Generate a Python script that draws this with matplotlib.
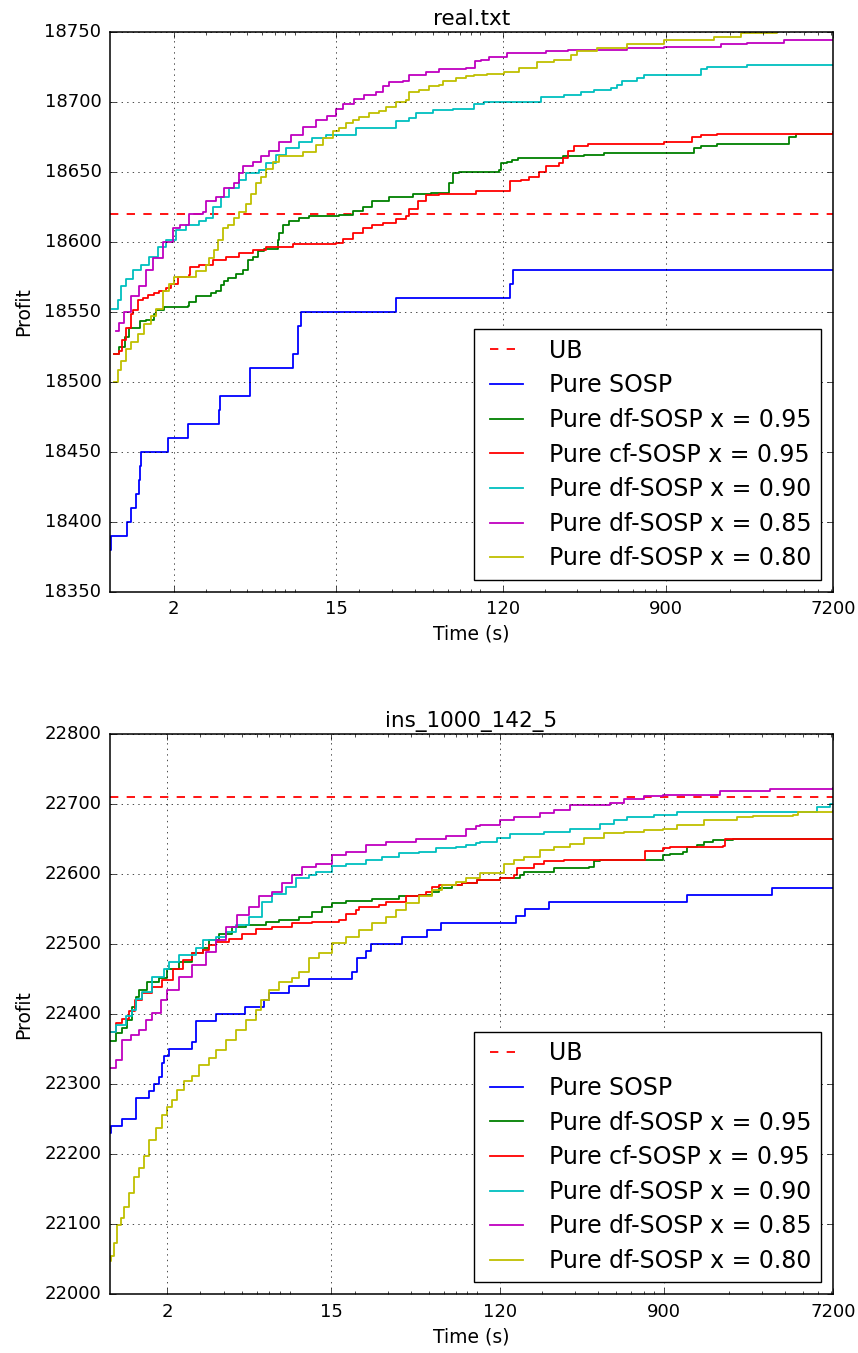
import matplotlib
matplotlib.use('Agg')
import matplotlib.pyplot as plt
from matplotlib.ticker import NullFormatter, FixedLocator, FixedFormatter

plt.style.use('classic')
plt.rcParams['lines.linewidth'] = 1.3
plt.rcParams['axes.linewidth'] = 1.1
plt.rcParams['xtick.labelsize'] = 13
plt.rcParams['ytick.labelsize'] = 13

# ---- real.txt ----
ub_a = 18620

t_sosp_a = [0.91, 0.92, 1.12, 1.17, 1.25, 1.30, 1.32, 1.34, 1.86, 2.40, 3.52, 3.57, 5.18, 8.76, 9.39, 9.71, 31.6, 130, 136, 7200]
p_sosp_a = [18380, 18390, 18400, 18410, 18420, 18430, 18440, 18450, 18460, 18470, 18480, 18490, 18510, 18520, 18540, 18550, 18560, 18570, 18580, 18580]

t_df95_a = [0.95, 1.02, 1.09, 1.154, 1.31, 1.42, 1.57, 1.61, 1.78, 2.38, 2.43, 2.64, 3.18, 3.38, 3.60, 3.75, 3.91, 4.34, 4.71,
            5.01, 5.33, 5.68, 6.17, 7.28, 7.43, 7.74, 8.41, 9.52, 10.8, 15.6, 18.5, 20.9, 23.6, 29.1, 38.9, 48.8, 61.3, 63.9, 69.3,
            114, 116, 126, 134, 143, 250, 327, 419, 1279, 1389, 1710, 4160, 4519, 7200]
p_df95_a = [18520, 18525, 18532, 18538, 18543, 18544, 18548, 18551, 18553, 18554, 18557, 18561, 18563, 18565, 18569, 18572, 18574, 18577, 18580,
            18587, 18589, 18593, 18595, 18601, 18606, 18612, 18615, 18617, 18618, 18619, 18622, 18625, 18629, 18632, 18634, 18635, 18642, 18649, 18650,
            18651, 18656, 18657, 18658, 18660, 18661, 18662, 18663, 18667, 18668, 18670, 18675, 18677, 18678]

t_cf95_a = [0.95, 1.02, 1.05, 1.107, 1.178, 1.202, 1.279, 1.361, 1.449, 1.573, 1.674, 1.818, 1.935, 2.10, 2.43, 2.45, 2.75, 3.25, 3.83, 4.52,
            5.33, 6.30, 8.76, 15.0, 16.3, 18.5, 20.9, 23.6, 26.8, 31.6, 35.8, 37.3, 41.4, 45.9, 54.1, 85, 130, 149, 165, 187,
            203, 240, 250, 266, 289, 341, 882, 1253, 1389, 1710, 7200]
p_cf95_a = [18520, 18522, 18530, 18538, 18548, 18551, 18558, 18560, 18562, 18563, 18565, 18567, 18570, 18575, 18576, 18582, 18583, 18587, 18589, 18592,
            18594, 18596, 18598, 18599, 18602, 18606, 18610, 18612, 18613, 18616, 18618, 18623, 18629, 18633, 18634, 18636, 18643, 18644, 18646, 18650,
            18654, 18656, 18660, 18665, 18668, 18670, 18671, 18675, 18676, 18677, 18678]

t_df90_a = [0.93, 0.998, 1.04, 1.107, 1.20, 1.33, 1.48, 1.64, 1.82, 2.06, 2.33, 2.75, 2.99, 3.25, 3.60, 3.99, 4.52, 4.91, 5.79, 6.30,
            7.13, 8.07, 9.52, 11.2, 13.3, 19.2, 31.6, 37.3, 40.5, 49.8, 63.9, 83.4, 94.4, 191, 255, 313, 370, 455, 494, 526,
            633, 688, 1389, 1510, 2480, 7200]
p_df90_a = [18552, 18558, 18568, 18573, 18580, 18583, 18589, 18596, 18601, 18608, 18612, 18615, 18617, 18625, 18632, 18638, 18644, 18649, 18651, 18656,
            18662, 18667, 18671, 18674, 18676, 18681, 18686, 18688, 18692, 18694, 18695, 18698, 18700, 18703, 18705, 18707, 18708, 18710, 18712, 18715,
            18717, 18719, 18723, 18725, 18726, 18726]

t_df85_a = [0.978, 1.02, 1.084, 1.178, 1.306, 1.42, 1.54, 1.745, 1.975, 2.15, 2.43, 2.87, 2.99, 3.38, 3.75, 4.25, 4.52, 4.71, 5.33, 5.92,
            6.56, 7.43, 8.58, 9.92, 11.7, 13.5, 15.0, 16.3, 18.8, 21.3, 24.6, 26.8, 29.1, 34.3, 37.3, 45.9, 54.1, 75.3, 84, 91,
            100, 126, 203, 266, 559, 882, 1782, 2480, 3911, 7200]
p_df85_a = [18536, 18542, 18550, 18561, 18568, 18580, 18588, 18600, 18610, 18612, 18620, 18621, 18629, 18632, 18638, 18642, 18649, 18654, 18657, 18661,
            18665, 18671, 18676, 18682, 18687, 18690, 18695, 18698, 18702, 18705, 18707, 18711, 18714, 18715, 18719, 18721, 18723, 18724, 18729, 18730,
            18732, 18735, 18736, 18737, 18738, 18739, 18741, 18742, 18744, 18744]

t_df80_a = [0.957, 0.998, 1.04, 1.107, 1.178, 1.279, 1.39, 1.51, 1.606, 1.745, 1.895, 2.02, 2.64, 2.99, 3.11, 3.31, 3.45, 3.68, 3.91, 4.25,
            4.52, 4.91, 5.22, 5.56, 5.92, 6.30, 6.84, 7.43, 9.92, 11.7, 12.7, 14.4, 15.6, 17.0, 18.5, 20.0, 22.7, 25.7, 27.9, 31.6,
            35.8, 37.3, 42.2, 47.8, 54.1, 56.4, 66.5, 75.3, 83.4, 98.4, 121, 146, 183, 225, 277, 301, 386, 559, 882, 1640,
            2284, 3600, 7200]
p_df80_a = [18500, 18508, 18515, 18523, 18528, 18534, 18541, 18547, 18552, 18565, 18570, 18575, 18579, 18583, 18588, 18594, 18601, 18610, 18612, 18617,
            18621, 18627, 18634, 18642, 18646, 18652, 18657, 18661, 18664, 18669, 18674, 18679, 18681, 18685, 18687, 18689, 18692, 18693, 18696, 18700,
            18701, 18707, 18708, 18711, 18712, 18715, 18717, 18718, 18719, 18720, 18721, 18724, 18728, 18730, 18733, 18736, 18738, 18741, 18744, 18746,
            18749, 18751, 18752]

# ---- ins_1000_142_5 ----
ub_b = 22710

t_sosp_b = [0.985, 0.997, 1.141, 1.355, 1.597, 1.698, 1.805, 1.865, 1.92, 2.041, 2.698, 2.834, 3.624, 5.196, 6.564, 6.98, 8.924, 11.41, 19.44, 20.67,
            22.91, 24.36, 35.95, 48.9, 57.6, 146.1, 163.2, 217.4, 1191, 3385, 7200]
p_sosp_b = [22230, 22240, 22250, 22280, 22290, 22300, 22310, 22330, 22340, 22350, 22360, 22390, 22400, 22410, 22420, 22430, 22440, 22450, 22460, 22480,
            22490, 22500, 22510, 22520, 22530, 22540, 22550, 22560, 22570, 22580, 22580]

t_df95_b = [0.985, 1.06, 1.15, 1.22, 1.30, 1.36, 1.41, 1.56, 1.80, 2.0, 2.31, 2.72, 3.08, 3.34, 3.78, 4.45, 5.24, 6.70, 7.89, 10.09,
            11.89, 13.45, 15.21, 17.92, 24.86, 34.51, 44.14, 51.98, 56.43, 66.48, 75, 90.08, 120, 153.5, 159.9, 231.2, 355.4, 378, 410, 893.6,
            970, 1143, 1191, 1346, 1462, 1652, 2113, 7200]
p_df95_b = [22361, 22373, 22380, 22392, 22410, 22425, 22434, 22446, 22452, 22465, 22475, 22487, 22494, 22506, 22515, 22524, 22527, 22531, 22534, 22539,
            22546, 22553, 22559, 22562, 22564, 22568, 22570, 22575, 22580, 22584, 22587, 22592, 22595, 22599, 22603, 22608, 22610, 22618, 22620, 22627,
            22629, 22632, 22639, 22641, 22646, 22649, 22650, 22650]

t_cf95_b = [0.985, 1.06, 1.15, 1.25, 1.35, 1.47, 1.66, 1.88, 2.13, 2.41, 2.72, 3.08, 3.34, 3.62, 4.27, 5.03, 5.92, 7.27, 9.30, 11.89,
            16.51, 17.92, 20.25, 21.10, 26.98, 29.30, 37.46, 44.14, 47.91, 51.98, 56.43, 75, 90.08, 120, 141.4, 147.2, 180.8, 204.5, 261.4, 713.5,
            893.6, 970, 1869, 1908, 7200]
p_cf95_b = [22375, 22387, 22393, 22405, 22420, 22430, 22439, 22449, 22465, 22477, 22487, 22492, 22499, 22503, 22508, 22515, 22521, 22525, 22530, 22532,
            22534, 22543, 22549, 22553, 22556, 22560, 22568, 22570, 22575, 22582, 22584, 22587, 22591, 22594, 22599, 22608, 22615, 22618, 22620, 22633,
            22637, 22639, 22640, 22650, 22650]

t_df90_b = [0.985, 1.06, 1.20, 1.30, 1.36, 1.47, 1.66, 1.92, 2.04, 2.31, 2.83, 3.08, 3.62, 4.10, 4.63, 5.46, 6.43, 7.27, 8.57, 9.69,
            11.41, 12.39, 15.21, 17.92, 22.91, 28.12, 34.51, 44.14, 54.17, 69.27, 78.32, 88.6, 93.86, 115.2, 135.7, 204.5, 283.8, 410.4, 483.6, 569.5,
            790.5, 1053, 2490, 5888, 6936, 7200]
p_df90_b = [22375, 22385, 22397, 22406, 22422, 22432, 22453, 22465, 22475, 22484, 22494, 22506, 22510, 22518, 22527, 22539, 22560, 22572, 22582, 22594,
            22599, 22603, 22611, 22615, 22620, 22625, 22630, 22632, 22637, 22638, 22641, 22644, 22646, 22651, 22657, 22660, 22665, 22672, 22677, 22682,
            22684, 22688, 22689, 22696, 22700, 22700]

t_df85_b = [0.985, 1.06, 1.15, 1.274, 1.412, 1.533, 1.663, 1.843, 2.0, 2.31, 2.72, 3.21, 3.62, 4.10, 4.73, 5.46, 6.17, 7.27, 8.22, 9.30,
            10.52, 12.39, 15.21, 17.92, 22.91, 29.30, 42.36, 61.26, 78.32, 88.6, 93.86, 120, 141.4, 196.2, 231.2, 283.8, 464.2, 546.6, 699.1, 893.6,
            1794, 3317, 7200]
p_df85_b = [22323, 22334, 22363, 22370, 22378, 22392, 22401, 22420, 22434, 22453, 22470, 22489, 22506, 22525, 22541, 22553, 22568, 22575, 22587, 22599,
            22610, 22615, 22627, 22632, 22641, 22646, 22650, 22654, 22665, 22668, 22670, 22677, 22681, 22687, 22692, 22699, 22701, 22707, 22711, 22713,
            22719, 22721, 22723]

t_df80_b = [0.985, 0.997, 1.038, 1.082, 1.127, 1.174, 1.248, 1.327, 1.412, 1.501, 1.597, 1.733, 1.881, 2.0, 2.127, 2.262, 2.455, 2.72, 2.952, 3.339,
            3.624, 4.097, 4.633, 5.238, 5.924, 6.30, 6.98, 7.894, 9.298, 10.09, 11.41, 12.91, 15.21, 17.92, 21.10, 24.86, 29.30, 33.12, 37.46, 44.14,
            51.98, 58.79, 69.27, 78.32, 93.86, 125.0, 141.4, 159.9, 196.2, 231.2, 283.8, 334.3, 427.6, 546.6, 699.1, 893.6, 1053, 1462, 2202, 2702,
            4418, 4699, 7200]
p_df80_b = [22047, 22054, 22073, 22099, 22109, 22125, 22144, 22168, 22180, 22197, 22220, 22237, 22256, 22268, 22278, 22292, 22304, 22311, 22328, 22337,
            22349, 22363, 22378, 22392, 22406, 22420, 22434, 22446, 22451, 22460, 22480, 22487, 22501, 22510, 22520, 22530, 22539, 22549, 22558, 22568,
            22577, 22584, 22589, 22594, 22601, 22615, 22620, 22625, 22634, 22638, 22643, 22651, 22658, 22660, 22663, 22665, 22670, 22677, 22681, 22683,
            22684, 22688, 22690]

time_ticks = [2, 15, 120, 900, 7200]
labels = ['Pure SOSP', 'Pure df-SOSP x = 0.95', 'Pure cf-SOSP x = 0.95',
          'Pure df-SOSP x = 0.90', 'Pure df-SOSP x = 0.85', 'Pure df-SOSP x = 0.80']
colors = ['b', 'g', 'r', 'c', 'm', 'y']

fig = plt.figure(figsize=(8.58, 13.53), facecolor='white')


def panel(rect, title, ub, series, xmin, ylim, ystep):
    ax = fig.add_axes(rect)
    ax.axhline(ub, color='r', ls='--', label='UB')
    for (t, p), lab, c in zip(series, labels, colors):
        ax.plot(t, p, color=c, drawstyle='steps-post', label=lab)
    ax.set_xscale('log')
    ax.set_xlim(xmin, 7200)
    ax.set_ylim(*ylim)
    ax.xaxis.set_major_locator(FixedLocator(time_ticks))
    ax.xaxis.set_major_formatter(FixedFormatter([str(v) for v in time_ticks]))
    ax.xaxis.set_minor_formatter(NullFormatter())
    yt = list(range(ylim[0], ylim[1] + 1, ystep))
    ax.set_yticks(yt)
    ax.set_yticklabels([str(v) for v in yt])
    ax.tick_params(which='major', pad=6)
    ax.grid(True)
    ax.set_title(title, fontsize=15.5)
    ax.set_xlabel('Time (s)', fontsize=13.5)
    ax.set_ylabel('Profit', fontsize=13.5, labelpad=8)
    ax.legend(loc='lower right', fontsize=17, labelspacing=0.45)
    return ax


panel([0.128, 0.5627, 0.843, 0.4139], 'real.txt', ub_a,
      [(t_sosp_a, p_sosp_a), (t_df95_a, p_df95_a), (t_cf95_a, p_cf95_a),
       (t_df90_a, p_df90_a), (t_df85_a, p_df85_a), (t_df80_a, p_df80_a)],
      0.905, (18350, 18750), 50)

panel([0.128, 0.0434, 0.843, 0.4141], 'ins_1000_142_5', ub_b,
      [(t_sosp_b, p_sosp_b), (t_df95_b, p_df95_b), (t_cf95_b, p_cf95_b),
       (t_df90_b, p_df90_b), (t_df85_b, p_df85_b), (t_df80_b, p_df80_b)],
      0.985, (22000, 22800), 100)

fig.savefig('out.png', dpi=100, facecolor='white')
